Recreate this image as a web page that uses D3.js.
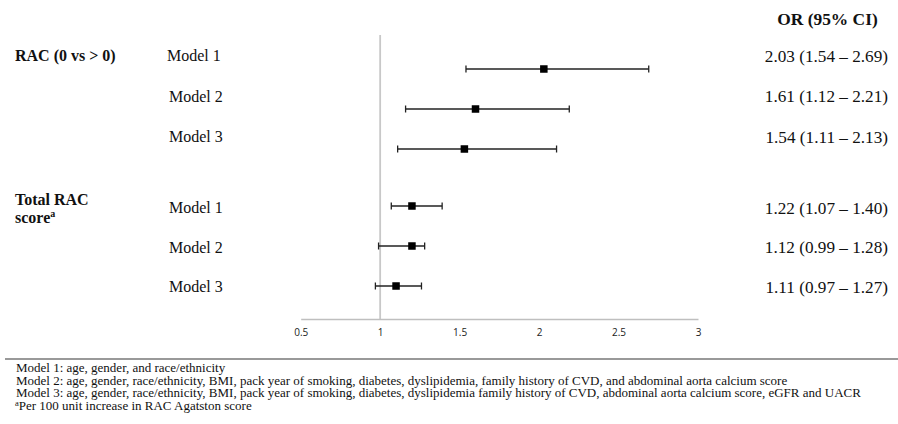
<!DOCTYPE html>
<html><head><meta charset="utf-8">
<script src="https://cdn.jsdelivr.net/npm/d3@7/dist/d3.min.js"></script>
<style>html,body{margin:0;padding:0;background:#fff;} svg{display:block;}</style>
</head><body>
<script>
// ---- data ----
const groups = ["RAC (0 vs > 0)", "Total RAC score"];
const rowGroup = [0, 0, 0, 1, 1, 1];
const models = ["Model 1", "Model 2", "Model 3", "Model 1", "Model 2", "Model 3"];
const orValues = [2.03, 1.60, 1.53, 1.20, 1.20, 1.10];
const ciLow = [1.54, 1.16, 1.11, 1.07, 0.99, 0.97];
const ciHigh = [2.69, 2.19, 2.11, 1.39, 1.28, 1.26];
const ciLabels = ["2.03 (1.54 \u2013 2.69)", "1.61 (1.12 \u2013 2.21)", "1.54 (1.11 \u2013 2.13)",
                  "1.22 (1.07 \u2013 1.40)", "1.12 (0.99 \u2013 1.28)", "1.11 (0.97 \u2013 1.27)"];
const xTicks = [0.5, 1, 1.5, 2, 2.5, 3];
const footnotes = [
  "Model 1: age, gender, and race/ethnicity",
  "Model 2: age, gender, race/ethnicity, BMI, pack year of smoking, diabetes, dyslipidemia, family history of CVD, and abdominal aorta calcium score",
  "Model 3: age, gender, race/ethnicity, BMI, pack year of smoking, diabetes, dyslipidemia family history of CVD, abdominal aorta calcium score, eGFR and UACR"
];
const footnoteA = "Per 100 unit increase in RAC Agatston score";

// ---- layout ----
const W = 898, H = 424;
const serif = "'Liberation Serif','Times New Roman',serif";
const sans = "'Open Sans','Liberation Sans',sans-serif";
const svg = d3.select("body").append("svg").attr("width", W).attr("height", H);

const x = d3.scaleLinear().domain([0.5, 3]).range([300.7, 698]);
const groupGap = 0.425;
const yMark = d3.scaleLinear().domain([0, 1]).range([69, 109]);
const markY = i => yMark(i + rowGroup[i] * groupGap);
const labelBase = [56, 208];
const labelStep = [40.5, 39.5];
const labelY = i => {
  const g = rowGroup[i];
  const j = i - rowGroup.indexOf(g);
  return labelBase[g] + labelStep[g] * j;
};
const axisY = 319;

// reference line at 1
svg.append("line").attr("x1", x(1)).attr("x2", x(1)).attr("y1", 35).attr("y2", axisY)
  .attr("stroke", "#c8c8c8").attr("stroke-width", 1.8);

// x axis
const axis = d3.axisBottom(x).tickValues(xTicks).tickSize(0).tickPadding(10)
  .tickFormat(d => String(d));
const ax = svg.append("g").attr("transform", `translate(0,${axisY})`).call(axis);
ax.select(".domain").attr("stroke", "#bfbfbf").attr("stroke-width", 1.3);
ax.selectAll("text").attr("font-family", sans).attr("font-size", 10).attr("fill", "#222");

// error bars
const rows = d3.range(models.length);
const eb = svg.append("g").selectAll("g").data(rows).join("g");
eb.append("line").attr("x1", i => x(ciLow[i])).attr("x2", i => x(ciHigh[i]))
  .attr("y1", markY).attr("y2", markY).attr("stroke", "#222").attr("stroke-width", 1.3);
eb.append("line").attr("x1", i => x(ciLow[i])).attr("x2", i => x(ciLow[i]))
  .attr("y1", i => markY(i) - 3.5).attr("y2", i => markY(i) + 3.5).attr("stroke", "#222").attr("stroke-width", 1.3);
eb.append("line").attr("x1", i => x(ciHigh[i])).attr("x2", i => x(ciHigh[i]))
  .attr("y1", i => markY(i) - 3.5).attr("y2", i => markY(i) + 3.5).attr("stroke", "#222").attr("stroke-width", 1.3);
const ms = 7.5;
eb.append("rect").attr("x", i => x(orValues[i]) - ms / 2).attr("y", i => markY(i) - ms / 2)
  .attr("width", ms).attr("height", ms).attr("fill", "#000");

// model labels
svg.append("g").selectAll("text").data(rows).join("text")
  .attr("x", i => i === 0 ? 167 : 169).attr("y", i => labelY(i) + 5.3)
  .attr("font-family", serif).attr("font-size", 16).attr("fill", "#111")
  .text(i => models[i]);

// CI labels
svg.append("text").attr("x", 827.5).attr("y", 25).attr("text-anchor", "middle")
  .attr("font-family", serif).attr("font-size", 17.4).attr("font-weight", "bold").attr("fill", "#111")
  .text("OR (95% CI)");
svg.append("g").selectAll("text").data(rows).join("text")
  .attr("x", 888).attr("y", i => labelY(i) + 5.8).attr("text-anchor", "end")
  .attr("font-family", serif).attr("font-size", 17.2).attr("fill", "#111")
  .text(i => ciLabels[i]);

// group labels
svg.append("text").attr("x", 15).attr("y", 56 + 5.3)
  .attr("font-family", serif).attr("font-size", 16).attr("font-weight", "bold").attr("fill", "#111")
  .text(groups[0]);
const g2 = groups[1].split(" ");
svg.append("text").attr("x", 15).attr("y", 200 + 5.3)
  .attr("font-family", serif).attr("font-size", 16).attr("font-weight", "bold").attr("fill", "#111")
  .text(g2.slice(0, 2).join(" "));
const sc = svg.append("text").attr("x", 15).attr("y", 218 + 5.3)
  .attr("font-family", serif).attr("font-size", 16).attr("font-weight", "bold").attr("fill", "#111");
sc.append("tspan").text(g2[2]);
sc.append("tspan").attr("font-size", 10).attr("dy", -6).text("a");

// footer
svg.append("line").attr("x1", 5).attr("x2", W).attr("y1", 359).attr("y2", 359)
  .attr("stroke", "#777").attr("stroke-width", 1.4);
svg.append("g").selectAll("text").data(footnotes).join("text")
  .attr("x", 16).attr("y", (d, i) => 372 + i * 12.7)
  .attr("font-family", serif).attr("font-size", 13).attr("fill", "#111")
  .text(d => d);
const fa = svg.append("text").attr("x", 15).attr("y", 372 + 3 * 12.7)
  .attr("font-family", serif).attr("font-size", 13).attr("fill", "#111");
fa.append("tspan").attr("font-size", 8.5).attr("dy", -4).text("a");
fa.append("tspan").attr("dy", 4).text(footnoteA);
</script>
</body></html>
